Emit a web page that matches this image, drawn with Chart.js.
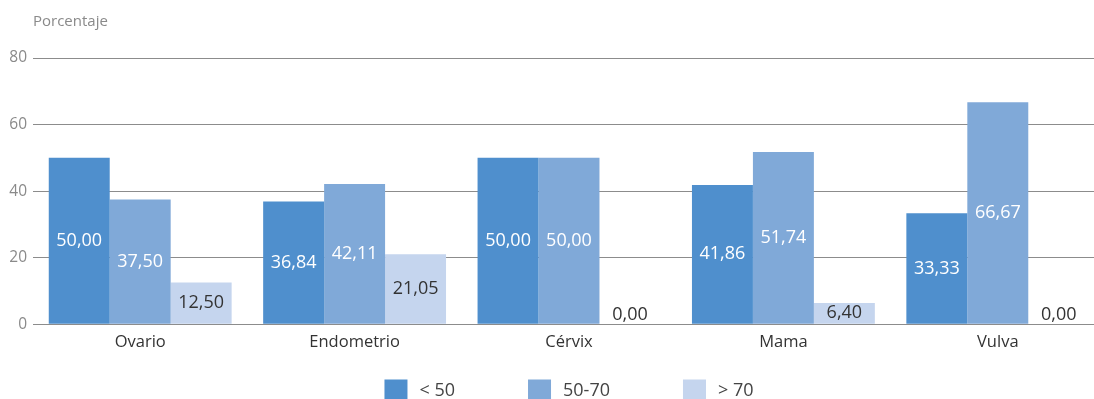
<!DOCTYPE html>
<html lang="es">
<head>
<meta charset="utf-8">
<title>Porcentaje por localización y grupo de edad</title>
<script src="https://cdn.jsdelivr.net/npm/chart.js@4/dist/chart.umd.min.js"></script>
<style>
  html, body { margin: 0; padding: 0; background: #ffffff; overflow: hidden; }
  #wrap { position: absolute; left: 0; top: 0; width: 1105px; height: 399px; }
  canvas { display: block; }
</style>
</head>
<body>
<div id="wrap"><canvas id="chart" width="1105" height="399"></canvas></div>
<script>
// Localizaciones y grupos de edad
const categories = ['Ovario', 'Endometrio', 'Cérvix', 'Mama', 'Vulva'];
const seriesNames = ['< 50', '50-70', '> 70'];

// Porcentaje de cada grupo de edad por localización
const under50 = [50.00, 36.84, 50.00, 41.86, 33.33];
const from50to70 = [37.50, 42.11, 50.00, 51.74, 66.67];
const over70 = [12.50, 21.05, 0.00, 6.40, 0.00];

const yTicks = [0, 20, 40, 60, 80];

const colors = ['#4f8fcd', '#80a9d8', '#c5d5ee'];
const labelColors = ['#ffffff', '#ffffff', '#333333'];
const FONT = "'Open Sans', 'Noto Sans', sans-serif";

// Valor escrito dentro de cada barra (coma decimal)
const valueLabels = {
  id: 'valueLabels',
  afterDatasetsDraw(chart) {
    const ctx = chart.ctx;
    ctx.save();
    ctx.font = '18px ' + FONT;
    ctx.textAlign = 'center';
    ctx.textBaseline = 'middle';
    chart.data.datasets.forEach((ds, di) => {
      const meta = chart.getDatasetMeta(di);
      meta.data.forEach((bar, i) => {
        const v = ds.data[i];
        const txt = v.toFixed(2).replace('.', ',');
        let y = (bar.y + bar.base) / 2;
        let color = labelColors[di];
        if (v === 0) { y = bar.base - 9; color = '#333333'; }
        ctx.fillStyle = color;
        ctx.fillText(txt, bar.x, y);
      });
    });
    ctx.restore();
  }
};

// Leyenda inferior con cuadros de color
const bottomLegend = {
  id: 'bottomLegend',
  afterDraw(chart) {
    const ctx = chart.ctx;
    const box = { w: 23, h: 20 };
    const gapText = 12;
    const gapItem = 73;
    ctx.save();
    ctx.font = '18px ' + FONT;
    ctx.textBaseline = 'middle';
    ctx.textAlign = 'left';
    const items = chart.data.datasets.map(ds => ({
      text: ds.label, color: ds.backgroundColor, w: ctx.measureText(ds.label).width
    }));
    let total = 0;
    items.forEach((it, i) => { total += box.w + gapText + it.w + (i ? gapItem : 0); });
    const ca = chart.chartArea;
    let x = (ca.left + ca.right) / 2 - total / 2;
    const yMid = 389.5;
    items.forEach(it => {
      ctx.fillStyle = it.color;
      ctx.fillRect(x, yMid - box.h / 2, box.w, box.h);
      ctx.fillStyle = '#444444';
      ctx.fillText(it.text, x + box.w + gapText, yMid + 1);
      x += box.w + gapText + it.w + gapItem;
    });
    ctx.restore();
  }
};

const seriesData = [under50, from50to70, over70];

new Chart(document.getElementById('chart'), {
  type: 'bar',
  data: {
    labels: categories,
    datasets: seriesNames.map((name, i) => ({
      label: name,
      data: seriesData[i],
      backgroundColor: colors[i],
      borderWidth: 0,
      categoryPercentage: 0.853,
      barPercentage: 1.0
    }))
  },
  options: {
    responsive: false,
    animation: false,
    devicePixelRatio: 1,
    layout: { padding: { left: 0, right: 0, top: 0, bottom: 39 } },
    plugins: {
      legend: { display: false },
      tooltip: { enabled: false },
      title: {
        display: true,
        fullSize: false,
        text: 'Porcentaje',
        align: 'start',
        color: '#8a8a8a',
        font: { family: FONT, size: 15, weight: 'normal' },
        padding: { top: 13, bottom: 27 }
      }
    },
    scales: {
      x: {
        grid: { display: false, drawTicks: false },
        border: { display: false },
        ticks: {
          color: '#333333',
          font: { family: FONT, size: 16.5 },
          padding: 8
        }
      },
      y: {
        min: 0,
        max: 80,
        afterFit(scale) { scale.width = 33; },
        afterBuildTicks(scale) { scale.ticks = yTicks.map(v => ({ value: v })); },
        grid: { color: '#8c8c8c', lineWidth: 1, drawTicks: false },
        border: { display: false },
        ticks: {
          color: '#8a8a8a',
          font: { family: FONT, size: 15.5 },
          padding: 6
        }
      }
    }
  },
  plugins: [valueLabels, bottomLegend]
});
</script>
</body>
</html>
